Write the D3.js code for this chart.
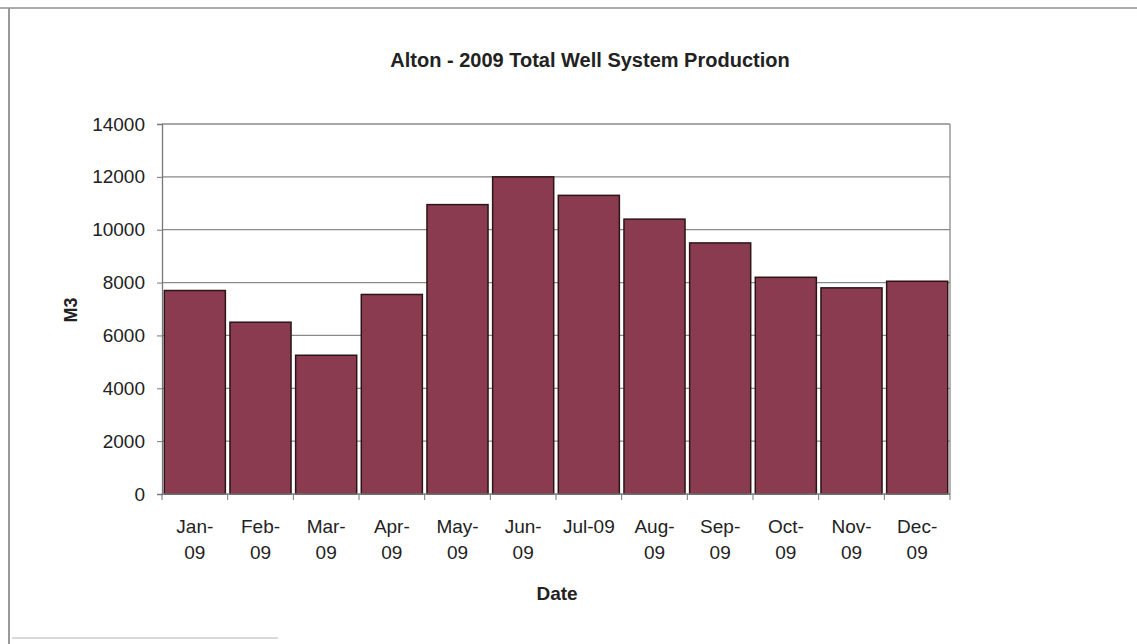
<!DOCTYPE html>
<html>
<head>
<meta charset="utf-8">
<script src="https://cdn.jsdelivr.net/npm/d3@7"></script>
<style>
  body { margin: 0; background: #fff; }
  text { font-family: "Liberation Sans", Arial, sans-serif; fill: #222; }
</style>
</head>
<body>
<svg id="chart" width="1137" height="644"></svg>
<script>
// data
const months = ["Jan-09", "Feb-09", "Mar-09", "Apr-09", "May-09", "Jun-09",
    "Jul-09", "Aug-09", "Sep-09", "Oct-09", "Nov-09", "Dec-09"];
const monthLines = [["Jan-", "09"], ["Feb-", "09"], ["Mar-", "09"], ["Apr-", "09"],
    ["May-", "09"], ["Jun-", "09"], ["Jul-09"], ["Aug-", "09"], ["Sep-", "09"],
    ["Oct-", "09"], ["Nov-", "09"], ["Dec-", "09"]];
const production = [7700, 6500, 5250, 7550, 10950, 12000, 11300, 10400, 9500, 8200, 7800, 8050];
const yTicks = [0, 2000, 4000, 6000, 8000, 10000, 12000, 14000];

const plot = {left: 162, right: 950, top: 124, bottom: 494};

const svg = d3.select("#chart");

// outer frame (scanned page border)
svg.append("line").attr("x1", 0).attr("x2", 1137).attr("y1", 8).attr("y2", 8)
    .attr("stroke", "#aaa").attr("stroke-width", 2);
svg.append("line").attr("x1", 9).attr("x2", 9).attr("y1", 8).attr("y2", 644)
    .attr("stroke", "#999").attr("stroke-width", 2);
svg.append("line").attr("x1", 12).attr("x2", 278).attr("y1", 638).attr("y2", 638)
    .attr("stroke", "#ccc").attr("stroke-width", 1.5);

const x = d3.scaleBand()
    .domain(months)
    .range([plot.left, plot.right])
    .paddingInner(0.07)
    .paddingOuter(0.035);

const y = d3.scaleLinear()
    .domain([0, 14000])
    .range([plot.bottom, plot.top]);

// gridlines
svg.append("g")
    .selectAll("line")
    .data(yTicks.filter(d => d > 0))
    .join("line")
    .attr("x1", plot.left).attr("x2", plot.right)
    .attr("y1", d => y(d)).attr("y2", d => y(d))
    .attr("stroke", "#8a8a8a").attr("stroke-width", 1.3);

// right border of plot area
svg.append("line")
    .attr("x1", plot.right).attr("x2", plot.right)
    .attr("y1", plot.top).attr("y2", plot.bottom)
    .attr("stroke", "#8a8a8a").attr("stroke-width", 1.3);

// bars
svg.append("g")
    .selectAll("rect")
    .data(production)
    .join("rect")
    .attr("x", (d, i) => x(months[i]))
    .attr("y", d => y(d))
    .attr("width", x.bandwidth())
    .attr("height", d => plot.bottom - y(d))
    .attr("fill", "#8a3b50")
    .attr("stroke", "#2b1518")
    .attr("stroke-width", 1.5);

// y axis
const yAxis = d3.axisLeft(y).tickValues(yTicks).tickFormat(d3.format("d"))
    .tickSize(5).tickPadding(12);
const gy = svg.append("g")
    .attr("transform", "translate(" + plot.left + ",0)")
    .call(yAxis);
gy.select(".domain").attr("stroke", "#777").attr("stroke-width", 1.3);
gy.selectAll(".tick line").attr("stroke", "#777");
gy.selectAll("text").attr("font-size", 19).attr("fill", "#222")
    .attr("font-family", "Liberation Sans, Arial, sans-serif");

// x axis (ticks at category boundaries, excel-style)
const gx = svg.append("g");
gx.append("line")
    .attr("x1", plot.left).attr("x2", plot.right)
    .attr("y1", plot.bottom).attr("y2", plot.bottom)
    .attr("stroke", "#777").attr("stroke-width", 1.3);
gx.selectAll("line.tick")
    .data(d3.range(months.length + 1))
    .join("line")
    .attr("class", "tick")
    .attr("x1", i => plot.left + i * (plot.right - plot.left) / months.length)
    .attr("x2", i => plot.left + i * (plot.right - plot.left) / months.length)
    .attr("y1", plot.bottom).attr("y2", plot.bottom + 6)
    .attr("stroke", "#777");

const labels = gx.selectAll("text.cat")
    .data(monthLines)
    .join("text")
    .attr("class", "cat")
    .attr("text-anchor", "middle")
    .attr("font-size", 19)
    .attr("x", (d, i) => x(months[i]) + x.bandwidth() / 2)
    .attr("y", 533);
labels.selectAll("tspan")
    .data(d => d)
    .join("tspan")
    .attr("x", function() { return this.parentNode.getAttribute("x"); })
    .attr("dy", (d, i) => i === 0 ? 0 : 26)
    .text(d => d);

// title and axis labels
svg.append("text")
    .attr("x", 590).attr("y", 67)
    .attr("text-anchor", "middle")
    .attr("font-size", 20).attr("font-weight", "bold")
    .text("Alton - 2009 Total Well System Production");

svg.append("text")
    .attr("x", 557).attr("y", 600)
    .attr("text-anchor", "middle")
    .attr("font-size", 19).attr("font-weight", "bold")
    .text("Date");

svg.append("text")
    .attr("transform", "translate(77,310) rotate(-90)")
    .attr("text-anchor", "middle")
    .attr("font-size", 18).attr("font-weight", "bold")
    .text("M3");
</script>
</body>
</html>
